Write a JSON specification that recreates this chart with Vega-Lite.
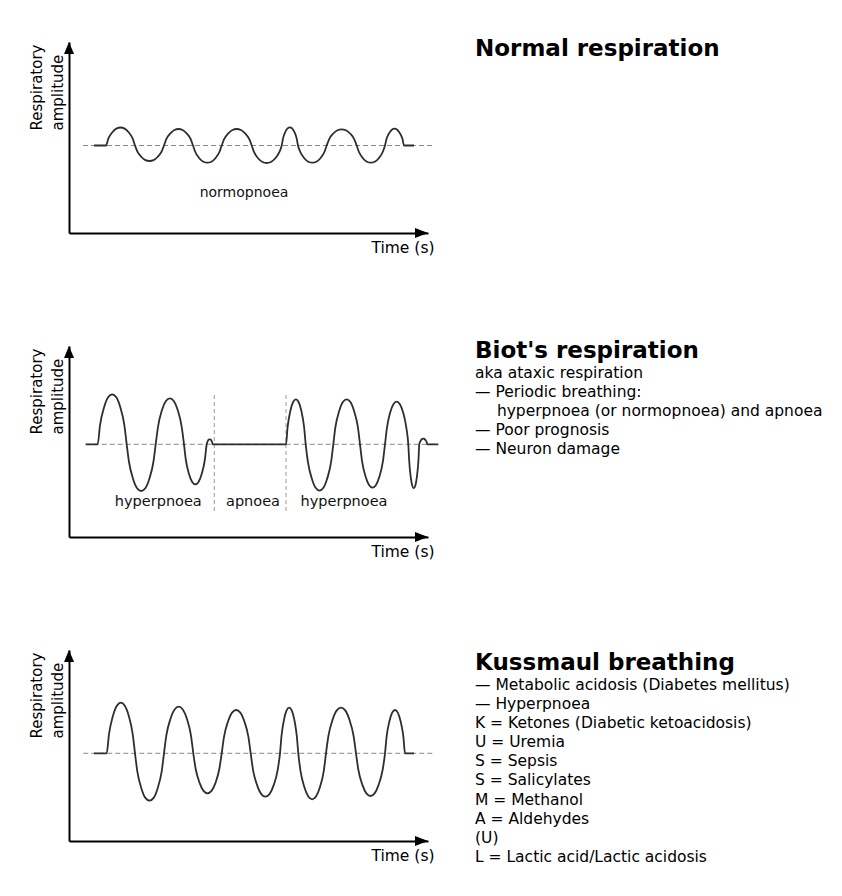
{
  "$schema": "https://vega.github.io/schema/vega-lite/v6.json",
  "background": "white",
  "padding": {"left": 28, "top": 37, "right": 5, "bottom": 5},
  "autosize": {"type": "pad"},
  "config": {
    "view": {"stroke": null},
    "font": "DejaVu Sans",
    "text": {"font": "DejaVu Sans", "color": "#000"},
    "axisX": {"domain": true, "domainColor": "#000", "domainWidth": 2, "ticks": false, "labels": false, "grid": false, "titleFont": "DejaVu Sans", "titleFontSize": 15.5, "titleFontWeight": "normal", "titleColor": "#000", "titleX": 365, "titleY": 19, "titleAlign": "right", "titleBaseline": "alphabetic"},
    "axisY": {"domain": true, "domainColor": "#000", "domainWidth": 2, "ticks": false, "labels": false, "grid": false, "titleFont": "DejaVu Sans", "titleFontSize": 15, "titleFontWeight": "normal", "titleColor": "#000", "titleAngle": 270, "titleAlign": "left", "titleBaseline": "alphabetic", "titleX": -28, "titleY": 88, "titleLineHeight": 21}
  },
  "bounds": "flush",
  "spacing": 304,
  "vconcat": [
    {
      "bounds": "flush",
      "spacing": 47,
      "hconcat": [
        {
          "width": 359,
          "height": 191,
          "encoding": {
            "x": {"field": "t", "type": "quantitative", "scale": {"domain": [0, 359], "nice": false, "zero": false}, "axis": {"title": "Time (s)"}},
            "y": {"field": "amp", "type": "quantitative", "scale": {"domain": [-87.5, 103.5], "nice": false, "zero": false}, "axis": {"title": ["Respiratory", "amplitude"]}}
          },
          "layer": [
            {
              "data": {"values": [{"t": 14, "t2": 364, "amp": 0}]},
              "mark": {"type": "rule", "color": "#888", "strokeDash": [5, 3], "strokeWidth": 1},
              "encoding": {"x2": {"field": "t2"}}
            },
            {
              "data": {"values": [
                {"t": 25, "amp": 0}, {"t": 37, "amp": 0},
                {"t": 39.3, "amp": 6.8}, {"t": 43.4, "amp": 13.3}, {"t": 47.4, "amp": 16.9}, {"t": 51.5, "amp": 18}, {"t": 55.6, "amp": 16.9}, {"t": 59.6, "amp": 13.3}, {"t": 63.7, "amp": 6.8}, {"t": 66, "amp": 0},
                {"t": 68.3, "amp": -5.9}, {"t": 72.4, "amp": -11.5}, {"t": 76.4, "amp": -14.6}, {"t": 80.5, "amp": -15.5}, {"t": 84.6, "amp": -14.6}, {"t": 88.6, "amp": -11.5}, {"t": 92.7, "amp": -5.9}, {"t": 95, "amp": 0},
                {"t": 97.3, "amp": 6.3}, {"t": 101.4, "amp": 12.2}, {"t": 105.4, "amp": 15.5}, {"t": 109.5, "amp": 16.5}, {"t": 113.6, "amp": 15.5}, {"t": 117.6, "amp": 12.2}, {"t": 121.7, "amp": 6.3}, {"t": 124, "amp": 0},
                {"t": 126.3, "amp": -6.5}, {"t": 130.3, "amp": -12.7}, {"t": 134.3, "amp": -16.2}, {"t": 138.4, "amp": -17.2}, {"t": 142.4, "amp": -16.2}, {"t": 146.4, "amp": -12.7}, {"t": 150.4, "amp": -6.5}, {"t": 152.7, "amp": 0},
                {"t": 155.1, "amp": 6.3}, {"t": 159.3, "amp": 12.2}, {"t": 163.5, "amp": 15.5}, {"t": 167.7, "amp": 16.5}, {"t": 171.9, "amp": 15.5}, {"t": 176.1, "amp": 12.2}, {"t": 180.3, "amp": 6.3}, {"t": 182.7, "amp": 0},
                {"t": 185.1, "amp": -6.7}, {"t": 189.3, "amp": -13}, {"t": 193.5, "amp": -16.5}, {"t": 197.7, "amp": -17.5}, {"t": 201.9, "amp": -16.5}, {"t": 206.1, "amp": -13}, {"t": 210.3, "amp": -6.7}, {"t": 212.7, "amp": 0},
                {"t": 214, "amp": 6.9}, {"t": 216.3, "amp": 13.5}, {"t": 218.6, "amp": 17.1}, {"t": 220.9, "amp": 18.2}, {"t": 223.1, "amp": 17.1}, {"t": 225.4, "amp": 13.5}, {"t": 227.7, "amp": 6.9}, {"t": 229, "amp": 0},
                {"t": 231.3, "amp": -6.5}, {"t": 235.3, "amp": -12.7}, {"t": 239.3, "amp": -16.2}, {"t": 243.4, "amp": -17.2}, {"t": 247.4, "amp": -16.2}, {"t": 251.4, "amp": -12.7}, {"t": 255.4, "amp": -6.5}, {"t": 257.7, "amp": 0},
                {"t": 260.1, "amp": 6.2}, {"t": 264.3, "amp": 12}, {"t": 268.5, "amp": 15.2}, {"t": 272.7, "amp": 16.2}, {"t": 276.9, "amp": 15.2}, {"t": 281.1, "amp": 12}, {"t": 285.3, "amp": 6.2}, {"t": 287.7, "amp": 0},
                {"t": 290, "amp": -6.5}, {"t": 293.9, "amp": -12.7}, {"t": 297.9, "amp": -16.2}, {"t": 301.9, "amp": -17.2}, {"t": 305.8, "amp": -16.2}, {"t": 309.8, "amp": -12.7}, {"t": 313.7, "amp": -6.5}, {"t": 316, "amp": 0},
                {"t": 317.5, "amp": 6.4}, {"t": 320.2, "amp": 12.4}, {"t": 322.8, "amp": 15.8}, {"t": 325.5, "amp": 16.8}, {"t": 328.2, "amp": 15.8}, {"t": 330.8, "amp": 12.4}, {"t": 333.5, "amp": 6.4}, {"t": 335, "amp": 0},
                {"t": 345, "amp": 0}
              ]},
              "mark": {"type": "line", "interpolate": "monotone", "color": "#2e2e2e", "strokeWidth": 1.8},
              "encoding": {}
            },
            {
              "data": {"values": [{"t": 175, "amp": -51.2, "label": "normopnoea"}]},
              "mark": {"type": "text", "align": "center", "baseline": "alphabetic", "fontSize": 14, "color": "#111"},
              "encoding": {"text": {"field": "label"}}
            },
            {
              "data": {"values": [{"t": 0, "amp": 103.5, "dir": "up"}, {"t": 359, "amp": -87.5, "dir": "right"}]},
              "mark": {"type": "point", "filled": true, "size": 4, "color": "#000", "opacity": 1, "strokeWidth": 0},
              "encoding": {"shape": {"field": "dir", "type": "nominal", "scale": {"domain": ["up", "right"], "range": ["M0,0L-5,12L5,12Z", "M0,0L-13,-5L-13,5Z"]}, "legend": null}}
            }
          ]
        },
        {
          "width": 350,
          "height": 191,
          "encoding": {
            "x": {"field": "col", "type": "quantitative", "scale": {"domain": [0, 16], "nice": false, "zero": false}, "axis": null},
            "y": {"field": "line", "type": "quantitative", "scale": {"domain": [0, 10], "nice": false, "zero": false, "reverse": true}, "axis": null},
            "text": {"field": "text"}
          },
          "layer": [
            {
              "data": {"values": [{"col": 0, "line": 0.73, "text": "Normal respiration"}]},
              "mark": {"type": "text", "align": "left", "baseline": "alphabetic", "fontSize": 23, "fontWeight": "bold"}
            }
          ]
        }
      ]
    },
    {
      "bounds": "flush",
      "spacing": 47,
      "hconcat": [
        {
          "width": 359,
          "height": 191,
          "encoding": {
            "x": {"field": "t", "type": "quantitative", "scale": {"domain": [0, 359], "nice": false, "zero": false}, "axis": {"title": "Time (s)"}},
            "y": {"field": "amp", "type": "quantitative", "scale": {"domain": [-92.7, 98.3], "nice": false, "zero": false}, "axis": {"title": ["Respiratory", "amplitude"]}}
          },
          "layer": [
            {
              "data": {"values": [{"t": 16.7, "t2": 369, "amp": 0}]},
              "mark": {"type": "rule", "color": "#888", "strokeDash": [5, 3], "strokeWidth": 1},
              "encoding": {"x2": {"field": "t2"}}
            },
            {
              "data": {"values": [{"t": 145.3, "amp": 49.3, "amp2": -69}, {"t": 217, "amp": 49.3, "amp2": -69}]},
              "mark": {"type": "rule", "color": "#999", "strokeDash": [4, 3], "strokeWidth": 1},
              "encoding": {"y2": {"field": "amp2"}}
            },
            {
              "data": {"values": [
                {"t": 16.7, "amp": 0}, {"t": 28.7, "amp": 0},
                {"t": 31, "amp": 19}, {"t": 35.1, "amp": 37}, {"t": 39.1, "amp": 47}, {"t": 43.2, "amp": 50}, {"t": 47.3, "amp": 47}, {"t": 51.3, "amp": 37}, {"t": 55.4, "amp": 19}, {"t": 57.7, "amp": 0},
                {"t": 60, "amp": -17.7}, {"t": 64.1, "amp": -34.6}, {"t": 68.1, "amp": -43.9}, {"t": 72.2, "amp": -46.7}, {"t": 76.3, "amp": -43.9}, {"t": 80.3, "amp": -34.6}, {"t": 84.4, "amp": -17.7}, {"t": 86.7, "amp": 0},
                {"t": 89, "amp": 17.5}, {"t": 92.9, "amp": 34}, {"t": 96.9, "amp": 43.2}, {"t": 100.9, "amp": 46}, {"t": 104.8, "amp": 43.2}, {"t": 108.8, "amp": 34}, {"t": 112.7, "amp": 17.5}, {"t": 115, "amp": 0},
                {"t": 116.8, "amp": -15.2}, {"t": 120, "amp": -29.6}, {"t": 123.2, "amp": -37.6}, {"t": 126.4, "amp": -40}, {"t": 129.5, "amp": -37.6}, {"t": 132.7, "amp": -29.6}, {"t": 135.9, "amp": -15.2}, {"t": 137.7, "amp": 0},
                {"t": 138.2, "amp": 1.9}, {"t": 139, "amp": 3.7}, {"t": 139.9, "amp": 4.7}, {"t": 140.7, "amp": 5}, {"t": 141.5, "amp": 4.7}, {"t": 142.4, "amp": 3.7}, {"t": 143.2, "amp": 1.9}, {"t": 143.7, "amp": 0},
                {"t": 217, "amp": 0},
                {"t": 218.6, "amp": 17.1}, {"t": 221.3, "amp": 33.3}, {"t": 224.1, "amp": 42.3}, {"t": 226.9, "amp": 45}, {"t": 229.6, "amp": 42.3}, {"t": 232.4, "amp": 33.3}, {"t": 235.1, "amp": 17.1}, {"t": 236.7, "amp": 0},
                {"t": 238.9, "amp": -17.6}, {"t": 242.8, "amp": -34.3}, {"t": 246.6, "amp": -43.5}, {"t": 250.5, "amp": -46.3}, {"t": 254.4, "amp": -43.5}, {"t": 258.2, "amp": -34.3}, {"t": 262.1, "amp": -17.6}, {"t": 264.3, "amp": 0},
                {"t": 266.4, "amp": 17.1}, {"t": 270.2, "amp": 33.3}, {"t": 273.9, "amp": 42.3}, {"t": 277.7, "amp": 45}, {"t": 281.4, "amp": 42.3}, {"t": 285.1, "amp": 33.3}, {"t": 288.9, "amp": 17.1}, {"t": 291, "amp": 0},
                {"t": 293, "amp": -16.5}, {"t": 296.5, "amp": -32}, {"t": 300, "amp": -40.7}, {"t": 303.5, "amp": -43.3}, {"t": 307, "amp": -40.7}, {"t": 310.5, "amp": -32}, {"t": 314, "amp": -16.5}, {"t": 316, "amp": 0},
                {"t": 317.9, "amp": 16.2}, {"t": 321.1, "amp": 31.6}, {"t": 324.4, "amp": 40.1}, {"t": 327.7, "amp": 42.7}, {"t": 330.9, "amp": 40.1}, {"t": 334.2, "amp": 31.6}, {"t": 337.4, "amp": 16.2}, {"t": 339.3, "amp": 0},
                {"t": 340.2, "amp": -16.7}, {"t": 341.7, "amp": -32.6}, {"t": 343.3, "amp": -41.4}, {"t": 344.8, "amp": -44}, {"t": 346.3, "amp": -41.4}, {"t": 347.9, "amp": -32.6}, {"t": 349.4, "amp": -16.7}, {"t": 350.3, "amp": 0},
                {"t": 350.9, "amp": 2.2}, {"t": 352.1, "amp": 4.2}, {"t": 353.2, "amp": 5.4}, {"t": 354.3, "amp": 5.7}, {"t": 355.4, "amp": 5.4}, {"t": 356.5, "amp": 4.2}, {"t": 357.7, "amp": 2.2}, {"t": 358.3, "amp": 0},
                {"t": 369.3, "amp": 0}
              ]},
              "mark": {"type": "line", "interpolate": "monotone", "color": "#2e2e2e", "strokeWidth": 1.8},
              "encoding": {}
            },
            {
              "data": {"values": [
                {"t": 89.3, "amp": -61.7, "label": "hyperpnoea"},
                {"t": 184, "amp": -61.7, "label": "apnoea"},
                {"t": 275, "amp": -61.7, "label": "hyperpnoea"}
              ]},
              "mark": {"type": "text", "align": "center", "baseline": "alphabetic", "fontSize": 14.5, "color": "#111"},
              "encoding": {"text": {"field": "label"}}
            },
            {
              "data": {"values": [{"t": 0, "amp": 98.3, "dir": "up"}, {"t": 359, "amp": -92.7, "dir": "right"}]},
              "mark": {"type": "point", "filled": true, "size": 4, "color": "#000", "opacity": 1, "strokeWidth": 0},
              "encoding": {"shape": {"field": "dir", "type": "nominal", "scale": {"domain": ["up", "right"], "range": ["M0,0L-5,12L5,12Z", "M0,0L-13,-5L-13,5Z"]}, "legend": null}}
            }
          ]
        },
        {
          "width": 350,
          "height": 191,
          "encoding": {
            "x": {"field": "col", "type": "quantitative", "scale": {"domain": [0, 16], "nice": false, "zero": false}, "axis": null},
            "y": {"field": "line", "type": "quantitative", "scale": {"domain": [0, 10], "nice": false, "zero": false, "reverse": true}, "axis": null},
            "text": {"field": "text"}
          },
          "layer": [
            {
              "data": {"values": [{"col": 0, "line": 0.64, "text": "Biot's respiration"}]},
              "mark": {"type": "text", "align": "left", "baseline": "alphabetic", "fontSize": 23, "fontWeight": "bold"}
            },
            {
              "data": {"values": [
                {"col": 0, "line": 1.66, "text": "aka ataxic respiration"},
                {"col": 0, "line": 2.66, "text": "— Periodic breathing:"},
                {"col": 1, "line": 3.66, "text": "hyperpnoea (or normopnoea) and apnoea"},
                {"col": 0, "line": 4.66, "text": "— Poor prognosis"},
                {"col": 0, "line": 5.66, "text": "— Neuron damage"}
              ]},
              "mark": {"type": "text", "align": "left", "baseline": "alphabetic", "fontSize": 15.5}
            }
          ]
        }
      ]
    },
    {
      "bounds": "flush",
      "spacing": 47,
      "hconcat": [
        {
          "width": 359,
          "height": 191,
          "encoding": {
            "x": {"field": "t", "type": "quantitative", "scale": {"domain": [0, 359], "nice": false, "zero": false}, "axis": {"title": "Time (s)"}},
            "y": {"field": "amp", "type": "quantitative", "scale": {"domain": [-87.7, 103.3], "nice": false, "zero": false}, "axis": {"title": ["Respiratory", "amplitude"]}}
          },
          "layer": [
            {
              "data": {"values": [{"t": 14.3, "t2": 364.3, "amp": 0}]},
              "mark": {"type": "rule", "color": "#888", "strokeDash": [5, 3], "strokeWidth": 1},
              "encoding": {"x2": {"field": "t2"}}
            },
            {
              "data": {"values": [
                {"t": 25, "amp": 0}, {"t": 37.7, "amp": 0},
                {"t": 40, "amp": 19.2}, {"t": 43.9, "amp": 37.4}, {"t": 47.9, "amp": 47.6}, {"t": 51.9, "amp": 50.6}, {"t": 55.8, "amp": 47.6}, {"t": 59.8, "amp": 37.4}, {"t": 63.7, "amp": 19.2}, {"t": 66, "amp": 0},
                {"t": 68.3, "amp": -18}, {"t": 72.4, "amp": -35.1}, {"t": 76.4, "amp": -44.6}, {"t": 80.5, "amp": -47.4}, {"t": 84.6, "amp": -44.6}, {"t": 88.6, "amp": -35.1}, {"t": 92.7, "amp": -18}, {"t": 95, "amp": 0},
                {"t": 97.3, "amp": 17.7}, {"t": 101.5, "amp": 34.5}, {"t": 105.6, "amp": 43.8}, {"t": 109.7, "amp": 46.6}, {"t": 113.8, "amp": 43.8}, {"t": 117.9, "amp": 34.5}, {"t": 122, "amp": 17.7}, {"t": 124.3, "amp": 0},
                {"t": 126.6, "amp": -15.2}, {"t": 130.6, "amp": -29.6}, {"t": 134.5, "amp": -37.6}, {"t": 138.5, "amp": -40}, {"t": 142.5, "amp": -37.6}, {"t": 146.5, "amp": -29.6}, {"t": 150.4, "amp": -15.2}, {"t": 152.7, "amp": 0},
                {"t": 155, "amp": 16.5}, {"t": 159.1, "amp": 32}, {"t": 163.1, "amp": 40.7}, {"t": 167.2, "amp": 43.3}, {"t": 171.3, "amp": 40.7}, {"t": 175.3, "amp": 32}, {"t": 179.4, "amp": 16.5}, {"t": 181.7, "amp": 0},
                {"t": 184, "amp": -16.5}, {"t": 188.2, "amp": -32.1}, {"t": 192.3, "amp": -40.8}, {"t": 196.4, "amp": -43.4}, {"t": 200.5, "amp": -40.8}, {"t": 204.6, "amp": -32.1}, {"t": 208.7, "amp": -16.5}, {"t": 211, "amp": 0},
                {"t": 212.5, "amp": 17.3}, {"t": 215, "amp": 33.7}, {"t": 217.6, "amp": 42.9}, {"t": 220.2, "amp": 45.6}, {"t": 222.7, "amp": 42.9}, {"t": 225.3, "amp": 33.7}, {"t": 227.8, "amp": 17.3}, {"t": 229.3, "amp": 0},
                {"t": 231.5, "amp": -17.5}, {"t": 235.4, "amp": -34}, {"t": 239.3, "amp": -43.2}, {"t": 243.2, "amp": -46}, {"t": 247, "amp": -43.2}, {"t": 250.9, "amp": -34}, {"t": 254.8, "amp": -17.5}, {"t": 257, "amp": 0},
                {"t": 259.4, "amp": 17.3}, {"t": 263.6, "amp": 33.7}, {"t": 267.8, "amp": 42.9}, {"t": 272, "amp": 45.6}, {"t": 276.2, "amp": 42.9}, {"t": 280.4, "amp": 33.7}, {"t": 284.6, "amp": 17.3}, {"t": 287, "amp": 0},
                {"t": 289.3, "amp": -16.2}, {"t": 293.4, "amp": -31.6}, {"t": 297.4, "amp": -40.1}, {"t": 301.5, "amp": -42.7}, {"t": 305.6, "amp": -40.1}, {"t": 309.6, "amp": -31.6}, {"t": 313.7, "amp": -16.2}, {"t": 316, "amp": 0},
                {"t": 317.6, "amp": 16.5}, {"t": 320.4, "amp": 32}, {"t": 323.2, "amp": 40.7}, {"t": 326, "amp": 43.3}, {"t": 328.8, "amp": 40.7}, {"t": 331.6, "amp": 32}, {"t": 334.4, "amp": 16.5}, {"t": 336, "amp": 0},
                {"t": 345, "amp": 0}
              ]},
              "mark": {"type": "line", "interpolate": "monotone", "color": "#2e2e2e", "strokeWidth": 1.8},
              "encoding": {}
            },
            {
              "data": {"values": [{"t": 0, "amp": 103.3, "dir": "up"}, {"t": 359, "amp": -87.7, "dir": "right"}]},
              "mark": {"type": "point", "filled": true, "size": 4, "color": "#000", "opacity": 1, "strokeWidth": 0},
              "encoding": {"shape": {"field": "dir", "type": "nominal", "scale": {"domain": ["up", "right"], "range": ["M0,0L-5,12L5,12Z", "M0,0L-13,-5L-13,5Z"]}, "legend": null}}
            }
          ]
        },
        {
          "width": 350,
          "height": 191,
          "encoding": {
            "x": {"field": "col", "type": "quantitative", "scale": {"domain": [0, 16], "nice": false, "zero": false}, "axis": null},
            "y": {"field": "line", "type": "quantitative", "scale": {"domain": [0, 10], "nice": false, "zero": false, "reverse": true}, "axis": null},
            "text": {"field": "text"}
          },
          "layer": [
            {
              "data": {"values": [{"col": 0, "line": 1.05, "text": "Kussmaul breathing"}]},
              "mark": {"type": "text", "align": "left", "baseline": "alphabetic", "fontSize": 23, "fontWeight": "bold"}
            },
            {
              "data": {"values": [
                {"col": 0, "line": 2.09, "text": "— Metabolic acidosis (Diabetes mellitus)"},
                {"col": 0, "line": 3.09, "text": "— Hyperpnoea"},
                {"col": 0, "line": 4.09, "text": "K = Ketones (Diabetic ketoacidosis)"},
                {"col": 0, "line": 5.09, "text": "U = Uremia"},
                {"col": 0, "line": 6.09, "text": "S = Sepsis"},
                {"col": 0, "line": 7.09, "text": "S = Salicylates"},
                {"col": 0, "line": 8.09, "text": "M = Methanol"},
                {"col": 0, "line": 9.09, "text": "A = Aldehydes"},
                {"col": 0, "line": 10.09, "text": "(U)"},
                {"col": 0, "line": 11.09, "text": "L = Lactic acid/Lactic acidosis"}
              ]},
              "mark": {"type": "text", "align": "left", "baseline": "alphabetic", "fontSize": 15.5}
            }
          ]
        }
      ]
    }
  ]
}
